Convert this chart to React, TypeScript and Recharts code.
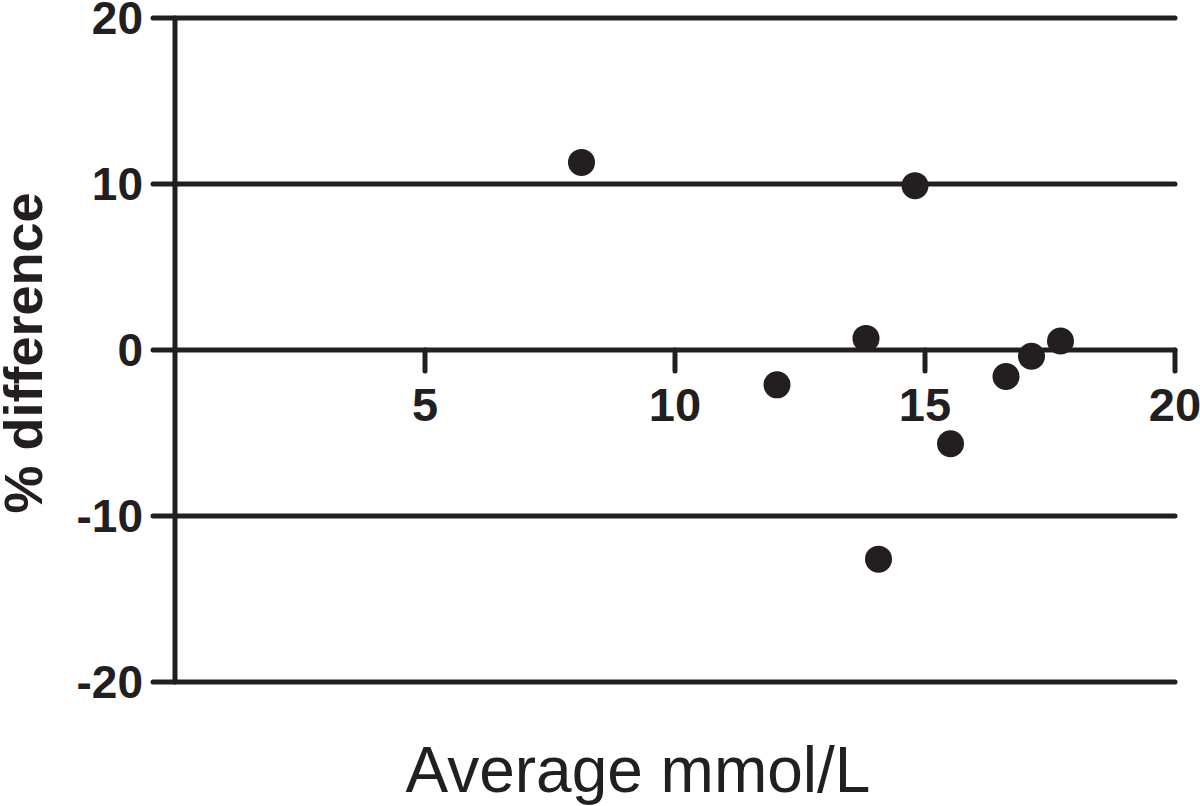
import React from 'react'
import { ScatterChart, Scatter, XAxis, YAxis, CartesianGrid } from 'recharts'

// values
const avgMmol = [8.13, 12.04, 13.82, 14.07, 14.8, 15.51, 16.62, 17.13, 17.71]
const pctDiff = [11.3, -2.1, 0.7, -12.6, 9.9, -5.65, -1.6, -0.38, 0.54]
const xTicks = [5, 10, 15, 20]
const yTicks = [-20, -10, 0, 10, 20]
const xDomain = [0, 20]
const yDomain = [-20, 20]

const INK = '#231f20'
const FONT = '"Liberation Sans", Arial, Helvetica, sans-serif'
const LINE_W = 5

const W = 1200
const H = 806
const TOP = 18
const BOTTOM = 124
const PLOT_H = H - TOP - BOTTOM
// pixel row of y = 0, where this plot draws its x axis
const ZERO_Y = TOP + (PLOT_H * yDomain[1]) / (yDomain[1] - yDomain[0])

const XTick = (props: any) => {
  const { x, payload } = props
  return (
    <g>
      <line x1={x} x2={x} y1={ZERO_Y} y2={ZERO_Y + 21} stroke={INK} strokeWidth={LINE_W} strokeLinecap="round" />
      <text x={x} y={ZERO_Y + 71} textAnchor="middle" fill={INK} fontSize={47} fontWeight="bold" fontFamily={FONT}>
        {payload.value}
      </text>
    </g>
  )
}

const Dot = (props: any) => <circle cx={props.cx} cy={props.cy} r={13.5} fill={INK} />

const App: React.FC = () => {
  const data = avgMmol.map((a, i) => ({ avg: a, diff: pctDiff[i] }))

  return (
    <div style={{ position: 'absolute', left: 0, top: 0, background: '#fff' }}>
      <ScatterChart width={W} height={H} margin={{ top: TOP, right: 25, bottom: 0, left: 0 }}>
        <CartesianGrid vertical={false} stroke={INK} strokeWidth={LINE_W} strokeLinecap="round" />
        <XAxis
          type="number"
          dataKey="avg"
          domain={xDomain}
          ticks={xTicks}
          height={BOTTOM}
          axisLine={false}
          tickLine={false}
          tick={<XTick />}
          label={() => (
            <text x={638} y={792} textAnchor="middle" fill={INK} fontSize={64} fontFamily={FONT}>
              Average mmol/L
            </text>
          )}
        />
        <YAxis
          type="number"
          dataKey="diff"
          domain={yDomain}
          ticks={yTicks}
          width={175}
          interval={0}
          axisLine={{ stroke: INK, strokeWidth: LINE_W }}
          tickLine={{ stroke: INK, strokeWidth: LINE_W, strokeLinecap: 'round' }}
          tickSize={22}
          tickMargin={10}
          tick={{ fill: INK, fontSize: 46, fontWeight: 'bold', fontFamily: FONT }}
          label={() => (
            <text
              x={42}
              y={353}
              transform="rotate(-90, 42, 353)"
              textAnchor="middle"
              fill={INK}
              fontSize={54}
              fontWeight="bold"
              fontFamily={FONT}
            >
              % difference
            </text>
          )}
        />
        <Scatter data={data} fill={INK} shape={<Dot />} isAnimationActive={false} />
      </ScatterChart>
    </div>
  )
}

export default App
